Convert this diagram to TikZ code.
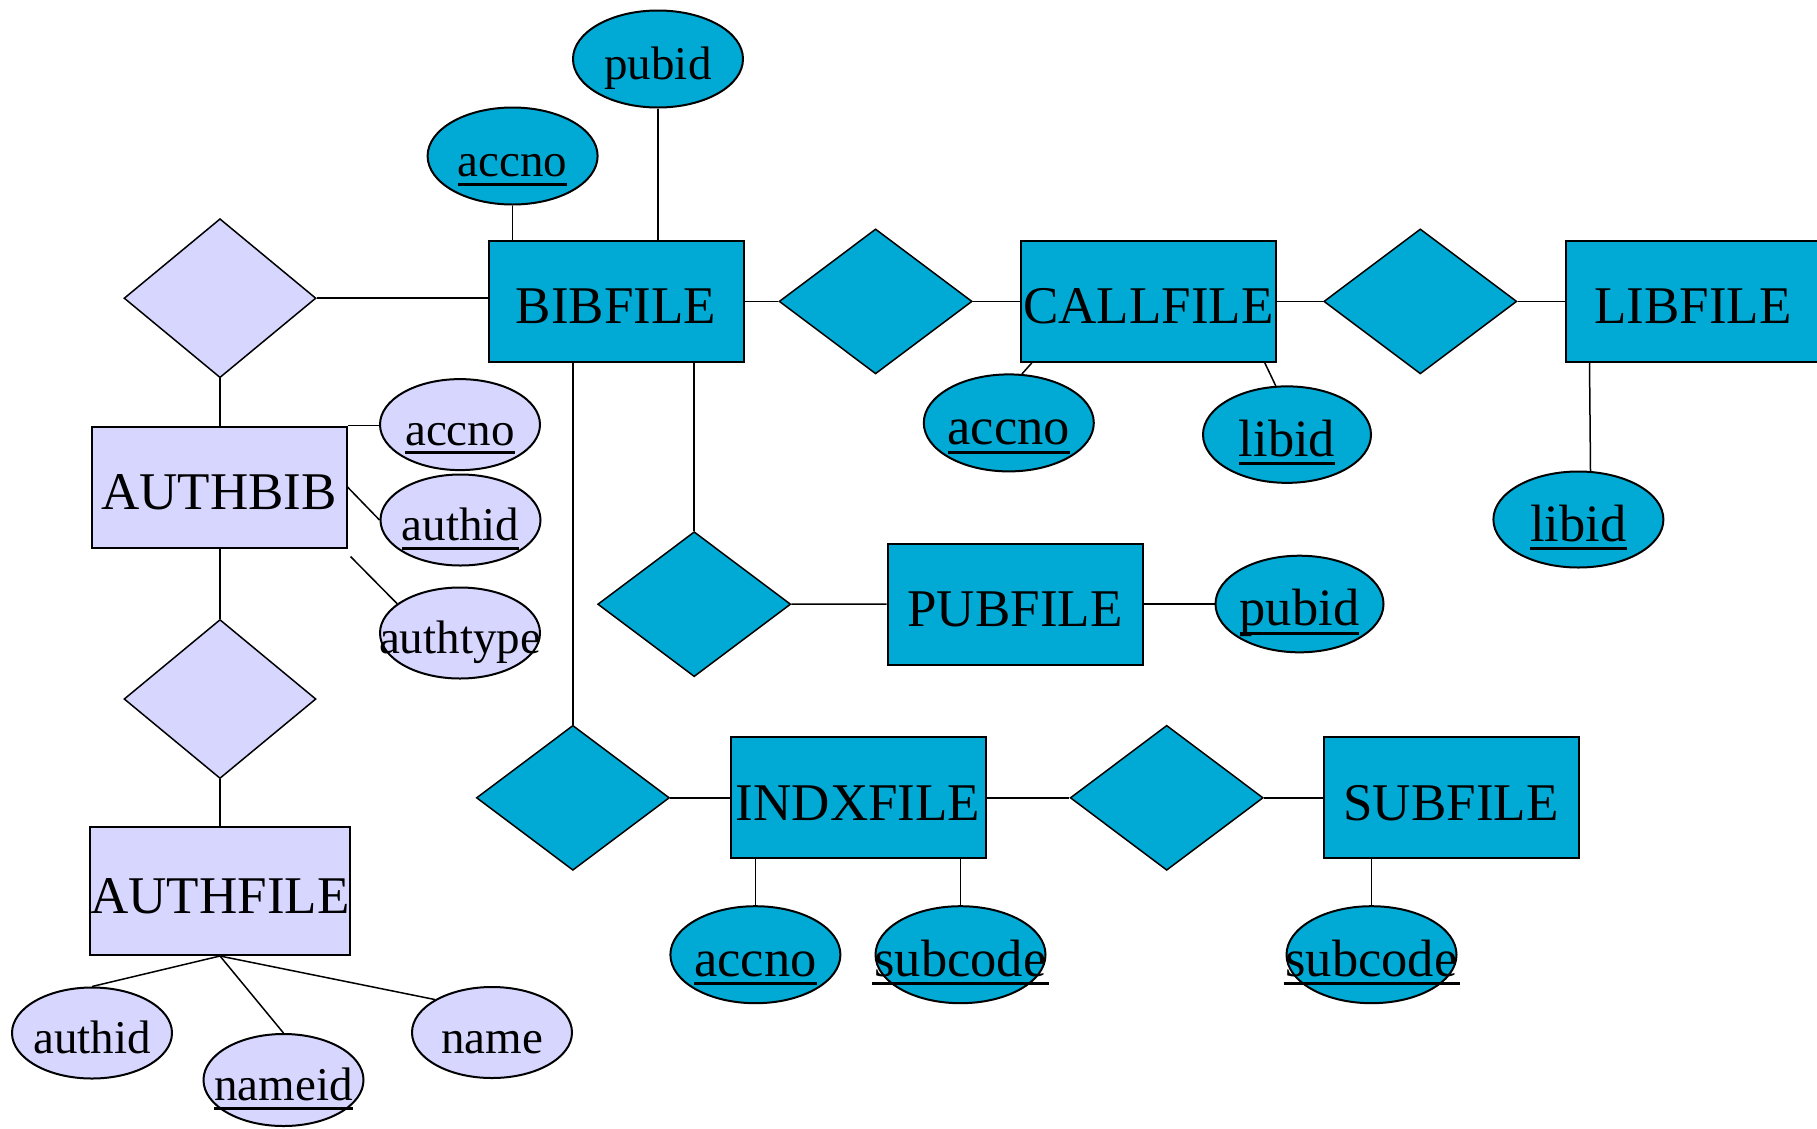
\documentclass[tikz,border=0pt]{standalone}
\usepackage{fontspec}
\setmainfont{Liberation Serif}
\usetikzlibrary{shapes.geometric}

\definecolor{erCyan}{RGB}{0,170,212}
\definecolor{erLav}{RGB}{214,214,255}

% key attribute: text with a fixed-offset underline
\newsavebox\ulbox
\newcommand\ulk[2][0pt]{\sbox\ulbox{#2}\rlap{\kern-#1\rule[-9pt]{\dimexpr\wd\ulbox+#1+#1\relax}{3pt}}\usebox\ulbox}

\begin{document}
\begin{tikzpicture}[x=1pt,y=-1pt,
  ent/.style={draw, rectangle, line width=2pt, minimum width=255pt, minimum height=121pt,
    inner sep=0pt, text height=45pt, text depth=0pt, font=\fontsize{53}{60}\selectfont},
  entC/.style={ent, fill=erCyan},
  entL/.style={ent, fill=erLav},
  rel/.style={draw, diamond, line width=1.5pt, inner sep=0pt},
  relC/.style={rel, fill=erCyan, minimum width=193pt, minimum height=145pt},
  relL/.style={rel, fill=erLav, minimum width=192pt, minimum height=159pt},
  attr/.style={draw, ellipse, line width=2pt, inner sep=0pt},
  attrC/.style={attr, fill=erCyan, minimum width=170pt, minimum height=97pt},
  attrL/.style={attr, fill=erLav, minimum width=160pt, minimum height=91pt},
  txtS/.style={inner sep=0pt, text height=41pt, text depth=0pt, font=\fontsize{47}{54}\selectfont},
  txtB/.style={inner sep=0pt, text height=43.5pt, text depth=0pt, font=\fontsize{52.5}{60}\selectfont},
  link/.style={line width=1.5pt}]

\useasboundingbox (0,0) rectangle (1817,1128);
\clip (0,0) rectangle (1817,1128);

% entities
\node[entC] (bib)  at (616,301.4)    {BIBFILE};
\node[entC] (call) at (1148.3,301.4) {CALLFILE};
\node[entC] (lib)  at (1693,301.4)   {LIBFILE};
\node[entC] (pub)  at (1015,604)     {PUBFILE};
\node[entC] (indx) at (858,797.8)    {INDXFILE};
\node[entC] (sub)  at (1451,797.8)   {SUBFILE};
\node[entL] (authbib)  at (219,487)  {AUTHBIB};
\node[entL, minimum width=256pt, minimum height=128pt] (authfile) at (220,891) {AUTHFILE};

% relationships
\node[relL] (rAB)   at (220,298.2)   {};
\node[relL] (rAF)   at (220,699)     {};
\node[relC] (rCall) at (875.6,301.4) {};
\node[relC] (rLib)  at (1420.3,301.4) {};
\node[relC] (rPub)  at (694.2,604.2) {};
\node[relC] (rIndx) at (572.9,797.8) {};
\node[relC] (rSub)  at (1166.7,797.8) {};

% attributes
\node[attrC] (aBibAcc) at (512.6,156) {};
\node[txtS] at (aBibAcc) {\ulk{accno}};
\node[attrC] (aBibPub) at (658,59) {};
\node[txtS] at (aBibPub) {pubid};

\node[attrL] (aABacc) at (460,424.6) {};
\node[txtS] at (aABacc) {\ulk{accno}};
\node[attrL] (aABauth) at (460.5,520) {};
\node[txtS] at (aABauth) {\ulk{authid}};
\node[attrL] (aABtype) at (460,633) {};
\node[txtS] at (aABtype) {authtype};

\node[attrL] (aAFid) at (92,1033) {};
\node[txtS] at (aAFid) {authid};
\node[attrL, minimum height=92pt] (aAFname) at (283.5,1080) {};
\node[txtS] at (aAFname) {\ulk{nameid}};
\node[attrL] (aAFnm) at (492,1032.5) {};
\node[txtS] at (aAFnm) {name};

\node[attrC] (aCacc) at (1008.8,422.9) {};
\node[txtB] at (aCacc) {\ulk{accno}};
\node[attrC, minimum width=168pt, minimum height=96.5pt] (aClib) at (1287,434.6) {};
\node[txtB] at (aClib) {\ulk{libid}};
\node[attrC, minimum height=96pt] (aLlib) at (1578.4,519.5) {};
\node[txtB] at (aLlib) {\ulk{libid}};
\node[attrC, minimum width=168pt, minimum height=96.6pt] (aPpub) at (1299.5,604) {};
\node[txtB] at (aPpub) {\ulk{pubid}};
\node[attrC] (aIacc) at (755.4,954.7) {};
\node[txtB] at (aIacc) {\ulk{accno}};
\node[attrC] (aIsub) at (960.5,954.7) {};
\node[txtB] at (aIsub) {\ulk[2pt]{subcode}};
\node[attrC] (aSsub) at (1371.5,954.7) {};
\node[txtB] at (aSsub) {\ulk[2pt]{subcode}};

% connectors: BIBFILE cluster
\draw[link] (aBibAcc.south) -- (aBibAcc.south |- bib.north);
\draw[link] (aBibPub.south) -- (aBibPub.south |- bib.north);
\draw[link] (rAB.east) -- (rAB.east -| bib.west);
\draw[link] (bib.east) -- (rCall.west);
\draw[link] (rCall.east) -- (call.west);
\draw[link] (call.east) -- (rLib.west);
\draw[link] (rLib.east) -- (lib.west);
\draw[link] ([xshift=12pt]call.south west) -- (aCacc.75);
\draw[link] ([xshift=-12pt]call.south east) -- (aClib.103);
\draw[link] ([xshift=25pt]lib.south west) -- (aLlib.76);

% connectors: PUBFILE and INDXFILE branches
\draw[link] (rPub.north) -- (rPub.north |- bib.south);
\draw[link] (rIndx.north) -- (rIndx.north |- bib.south);
\draw[link] (rPub.east) -- (pub.west);
\draw[link] (pub.east) -- (aPpub.west);
\draw[link] (rIndx.east) -- (indx.west);
\draw[link] (indx.east) -- (rSub.west);
\draw[link] (rSub.east) -- (sub.west);
\draw[link] (aIacc.north) -- (aIacc.north |- indx.south);
\draw[link] (aIsub.north) -- (aIsub.north |- indx.south);
\draw[link] (aSsub.north) -- (aSsub.north |- sub.south);

% connectors: author side
\draw[link] (rAB.south) -- (rAB.south |- authbib.north);
\draw[link] (authbib.north east) -- (authbib.north east -| aABacc.west);
\draw[link] (authbib.east) -- (aABauth.west);
\coordinate (tpStart) at ([shift={(3,8)}]authbib.south east);
\draw[link] (tpStart) -- (aABtype.155);
\draw[link] (rAF.north |- authbib.south) -- (rAF.north);
\draw[link] (rAF.south) -- (rAF.south |- authfile.north);
\draw[link] (authfile.south) -- (aAFid.north);
\draw[link] (authfile.south) -- (aAFname.north);
\draw[link] (authfile.south) -- (aAFnm.150);

\end{tikzpicture}
\end{document}
